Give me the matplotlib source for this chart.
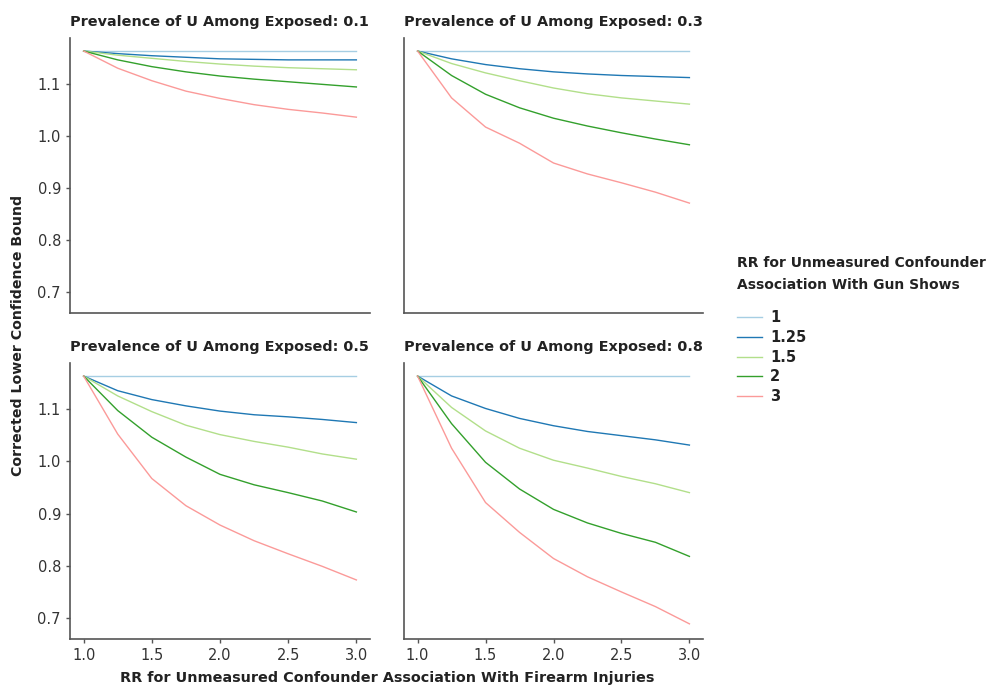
"""
plot.py - bias analysis panels: corrected lower confidence bound vs RR.
"""

import matplotlib
matplotlib.use("Agg")
import matplotlib.pyplot as plt

# x axis: RR for unmeasured confounder association with firearm injuries
rr_injury = [1.0, 1.25, 1.5, 1.75, 2.0, 2.25, 2.5, 2.75, 3.0]

# legend groups: RR for unmeasured confounder association with gun shows
rr_gunshow = ["1", "1.25", "1.5", "2", "3"]
prevalence = ["0.1", "0.3", "0.5", "0.8"]

# corrected lower bound, one row per gun-show RR (order of rr_gunshow)
bound_p01 = [
    [1.163, 1.163, 1.163, 1.163, 1.163, 1.163, 1.163, 1.163, 1.163],
    [1.163, 1.158, 1.154, 1.151, 1.148, 1.147, 1.146, 1.146, 1.146],
    [1.163, 1.155, 1.149, 1.143, 1.138, 1.134, 1.131, 1.129, 1.127],
    [1.163, 1.146, 1.133, 1.123, 1.115, 1.109, 1.104, 1.099, 1.094],
    [1.163, 1.130, 1.106, 1.086, 1.072, 1.060, 1.051, 1.044, 1.036],
]
bound_p03 = [
    [1.163, 1.163, 1.163, 1.163, 1.163, 1.163, 1.163, 1.163, 1.163],
    [1.163, 1.148, 1.137, 1.129, 1.123, 1.119, 1.116, 1.114, 1.112],
    [1.163, 1.139, 1.121, 1.106, 1.092, 1.081, 1.073, 1.067, 1.061],
    [1.163, 1.116, 1.080, 1.054, 1.034, 1.019, 1.006, 0.994, 0.983],
    [1.163, 1.073, 1.017, 0.986, 0.948, 0.927, 0.910, 0.892, 0.871],
]
bound_p05 = [
    [1.163, 1.163, 1.163, 1.163, 1.163, 1.163, 1.163, 1.163, 1.163],
    [1.163, 1.135, 1.118, 1.106, 1.096, 1.089, 1.085, 1.080, 1.074],
    [1.163, 1.125, 1.095, 1.069, 1.051, 1.038, 1.027, 1.014, 1.004],
    [1.163, 1.097, 1.046, 1.008, 0.975, 0.955, 0.940, 0.924, 0.903],
    [1.163, 1.052, 0.967, 0.915, 0.878, 0.848, 0.823, 0.799, 0.773],
]
bound_p08 = [
    [1.163, 1.163, 1.163, 1.163, 1.163, 1.163, 1.163, 1.163, 1.163],
    [1.163, 1.125, 1.101, 1.082, 1.068, 1.057, 1.049, 1.041, 1.031],
    [1.163, 1.103, 1.058, 1.025, 1.002, 0.987, 0.971, 0.957, 0.940],
    [1.163, 1.072, 0.998, 0.947, 0.908, 0.882, 0.862, 0.845, 0.818],
    [1.163, 1.025, 0.921, 0.864, 0.814, 0.779, 0.750, 0.722, 0.689],
]

COLORS = ["#a6cee3", "#1f78b4", "#b2df8a", "#33a02c", "#fb9a99"]
TEXT = "#222222"
AXIS = "#555555"

plt.rcParams["font.family"] = ["DejaVu Sans"]

fig = plt.figure(figsize=(9.98, 6.88), dpi=100)

W, H = 998, 688
panel_px = [  # left, top, right, bottom in pixels
    (70, 38, 370, 313),
    (404, 38, 703, 313),
    (70, 363, 370, 639),
    (404, 363, 703, 639),
]
panels = [bound_p01, bound_p03, bound_p05, bound_p08]

for i, (data, prev) in enumerate(zip(panels, prevalence)):
    l, t, r, b = panel_px[i]
    ax = fig.add_axes([l / W, 1 - b / H, (r - l) / W, (b - t) / H])
    for row, lab, col in zip(data, rr_gunshow, COLORS):
        ax.plot(rr_injury, row, color=col, lw=1.0, label=lab)
    ax.set_xlim(0.9, 3.1)
    ax.set_ylim(0.66, 1.188)
    ax.set_xticks([1.0, 1.5, 2.0, 2.5, 3.0])
    ax.set_yticks([0.7, 0.8, 0.9, 1.0, 1.1])
    for s in ["top", "right"]:
        ax.spines[s].set_visible(False)
    for s in ["left", "bottom"]:
        ax.spines[s].set_color(AXIS)
        ax.spines[s].set_linewidth(1.2)
    ax.tick_params(colors=AXIS, labelcolor="#333333", labelsize=10.5,
                   length=3, width=1)
    if i < 2:
        ax.tick_params(axis="x", bottom=False, labelbottom=False)
    if i % 2 == 1:
        ax.tick_params(axis="y", left=False, labelleft=False)
    ax.set_title(f"Prevalence of U Among Exposed: {prev}", loc="left",
                 fontsize=10.4, fontweight="bold", color=TEXT, pad=9)

fig.text(18 / W, 1 - 335 / H, "Corrected Lower Confidence Bound",
         rotation=90, ha="center", va="center", fontsize=10.2,
         fontweight="bold", color=TEXT)
fig.text(387 / W, 1 - 678 / H,
         "RR for Unmeasured Confounder Association With Firearm Injuries",
         ha="center", va="center", fontsize=10.4, fontweight="bold", color=TEXT)

# legend title drawn separately to match the wide line spacing
fig.text(737 / W, 1 - 256 / H,
         "RR for Unmeasured Confounder\nAssociation With Gun Shows",
         ha="left", va="top", fontsize=10, fontweight="bold", color=TEXT,
         linespacing=1.7)

handles, labels = fig.axes[0].get_legend_handles_labels()
leg = fig.legend(handles, labels, loc="upper left",
                 bbox_to_anchor=(737 / W, 1 - 310 / H), frameon=False,
                 borderpad=0, borderaxespad=0, handlelength=1.7,
                 handletextpad=0.55, labelspacing=0.33,
                 prop={"size": 10.5, "weight": "bold"})
for txt in leg.get_texts():
    txt.set_color(TEXT)

fig.savefig("out.png", dpi=100)
